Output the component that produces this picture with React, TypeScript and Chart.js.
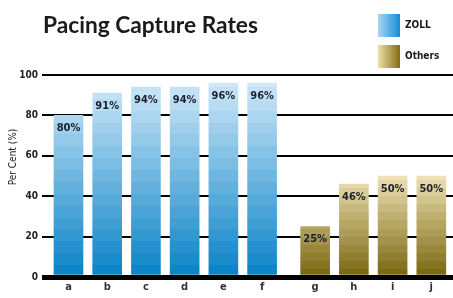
import React, { useEffect, useRef } from "react";
import { Chart, registerables } from "chart.js";

Chart.register(...registerables);

const zollLabels = ["a", "b", "c", "d", "e", "f"];
const zollValues = [80, 91, 94, 94, 96, 96];
const zollPositions = [0, 1, 2, 3, 4, 5];
const otherLabels = ["g", "h", "i", "j"];
const otherValues = [25, 46, 50, 50];
const otherPositions = [6.37, 7.37, 8.37, 9.37];
const yTicks = [0, 20, 40, 60, 80, 100];
const titleText = "Pacing Capture Rates";
const yTitle = "Per Cent (%)";
const seriesNames = ["ZOLL", "Others"];

const FONT = '"DejaVu Sans Condensed", "Liberation Sans Narrow", "Open Sans", sans-serif';
const TITLE_FONT = 'Lato, "Open Sans", sans-serif';

function lerp(a: number[], b: number[], t: number) {
  const r = a.map((v, i) => Math.round(v + (b[i] - v) * t));
  return `rgb(${r[0]},${r[1]},${r[2]})`;
}

function steppedGradient(ctx: CanvasRenderingContext2D, yBottom: number, yTop: number, bottomRGB: number[], topRGB: number[], bandPx: number) {
  const g = ctx.createLinearGradient(0, yBottom, 0, yTop);
  const n = Math.max(1, Math.round((yBottom - yTop) / bandPx));
  for (let i = 0; i < n; i++) {
    const c = lerp(bottomRGB, topRGB, (i + 0.5) / n);
    g.addColorStop(i / n, c);
    g.addColorStop(Math.min(1, (i + 1) / n - 0.0001), c);
  }
  return g;
}

const BLUE_BOTTOM = [8, 130, 198];
const BLUE_TOP = [214, 235, 250];
const GOLD_BOTTOM = [120, 102, 12];
const GOLD_TOP = [243, 230, 188];

export default function App() {
  const ref = useRef<HTMLCanvasElement | null>(null);
  useEffect(() => {
    const canvas = ref.current;
    if (!canvas) return;
    const allPos = [...zollPositions, ...otherPositions];
    const allLabels = [...zollLabels, ...otherLabels];

    const overlay = {
      id: "overlay",
      afterDatasetsDraw(chart: any) {
        const ctx = chart.ctx as CanvasRenderingContext2D;
        ctx.save();
        // value labels
        ctx.fillStyle = "#1b2130";
        ctx.font = `bold 11px ${FONT}`;
        ctx.textAlign = "center";
        ctx.textBaseline = "middle";
        chart.data.datasets.forEach((ds: any, di: number) => {
          const meta = chart.getDatasetMeta(di);
          meta.data.forEach((el: any, i: number) => {
            ctx.fillText(`${ds.data[i].y}%`, el.x, el.y + 13);
          });
        });
        // title
        ctx.fillStyle = "#1a1a1a";
        ctx.textAlign = "left";
        ctx.textBaseline = "alphabetic";
        let size = 24;
        ctx.font = `bold ${size}px ${TITLE_FONT}`;
        const w = ctx.measureText(titleText).width;
        size = size * 215 / w;
        ctx.font = `bold ${size}px ${TITLE_FONT}`;
        ctx.fillText(titleText, 43, 33);
        // y title
        ctx.save();
        ctx.translate(13, 157);
        ctx.rotate(-Math.PI / 2);
        ctx.font = `10px ${FONT}`;
        ctx.textAlign = "center";
        ctx.textBaseline = "middle";
        ctx.fillStyle = "#222";
        ctx.fillText(yTitle, 0, 0);
        ctx.restore();
        // legend
        const boxes = [
          { y: 14, c1: "rgb(170,214,244)", c2: "rgb(20,140,212)", label: seriesNames[0] },
          { y: 45, c1: "rgb(238,224,170)", c2: "rgb(130,108,18)", label: seriesNames[1] },
        ];
        boxes.forEach((b) => {
          const g = ctx.createLinearGradient(378, 0, 400, 0);
          g.addColorStop(0, b.c1);
          g.addColorStop(1, b.c2);
          ctx.fillStyle = g;
          ctx.fillRect(378, b.y, 22, 23);
          ctx.fillStyle = "#1a1a1a";
          ctx.font = `bold 10px ${FONT}`;
          ctx.textAlign = "left";
          ctx.textBaseline = "middle";
          ctx.fillText(b.label, 405, b.y + 11);
        });
        ctx.restore();
      },
    };

    const chart = new Chart(canvas, {
      type: "bar",
      data: {
        datasets: [
          {
            label: seriesNames[0],
            data: zollPositions.map((x, i) => ({ x, y: zollValues[i] })),
            grouped: false,
            barThickness: 29,
            backgroundColor: (c: any) => {
              const ca = c.chart.chartArea;
              if (!ca) return "#3a9ad8";
              const ys = c.chart.scales.y;
              return steppedGradient(c.chart.ctx, ys.getPixelForValue(0), ys.getPixelForValue(100), BLUE_BOTTOM, BLUE_TOP, 12);
            },
          } as any,
          {
            label: seriesNames[1],
            data: otherPositions.map((x, i) => ({ x, y: otherValues[i] })),
            grouped: false,
            barThickness: 29,
            backgroundColor: (c: any) => {
              const ca = c.chart.chartArea;
              if (!ca) return "#b8a050";
              const ys = c.chart.scales.y;
              return steppedGradient(c.chart.ctx, ys.getPixelForValue(0), ys.getPixelForValue(52), GOLD_BOTTOM, GOLD_TOP, 8);
            },
          } as any,
        ],
      },
      options: {
        animation: false,
        responsive: true,
        maintainAspectRatio: false,
        layout: { padding: { top: 75, left: 0, right: 0, bottom: 0 } },
        plugins: { legend: { display: false }, title: { display: false }, tooltip: { enabled: false } },
        scales: {
          x: {
            type: "linear",
            offset: false,
            min: -0.684,
            max: 9.93,
            grid: { display: false, drawTicks: false },
            border: { display: false },
            afterBuildTicks: (s: any) => {
              s.ticks = allPos.map((v) => ({ value: v }));
            },
            afterFit: (s: any) => {
              s.height = 21;
            },
            ticks: {
              autoSkip: false,
              maxRotation: 0,
              padding: 4,
              color: "#333",
              font: { family: FONT, size: 11, weight: "bold" },
              callback: (v: any) => {
                const idx = allPos.findIndex((p) => Math.abs(p - Number(v)) < 0.01);
                return idx >= 0 ? allLabels[idx] : "";
              },
            },
          },
          y: {
            min: 0,
            max: 100,
            afterBuildTicks: (s: any) => {
              s.ticks = yTicks.map((v) => ({ value: v }));
            },
            afterFit: (s: any) => {
              s.width = 42;
            },
            border: { display: false },
            grid: {
              color: "#000",
              lineWidth: (c: any) => (c.tick && c.tick.value === 0 ? 5 : 2),
              drawTicks: false,
            },
            ticks: {
              padding: 4,
              color: "#222",
              font: { family: FONT, size: 10, weight: "bold" },
            },
          },
        },
      },
      plugins: [overlay],
    } as any);
    return () => chart.destroy();
  }, []);
  return (
    <div style={{ position: "fixed", left: 0, top: 0, width: 453, height: 298, background: "#fff" }}>
      <canvas ref={ref} />
    </div>
  );
}
